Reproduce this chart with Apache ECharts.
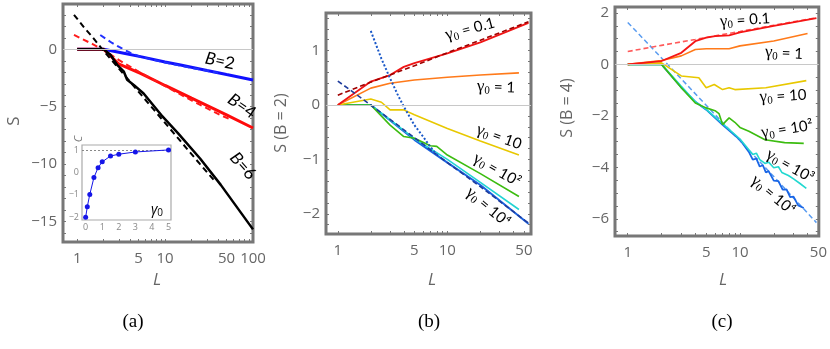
<!DOCTYPE html>
<html><head><meta charset="utf-8">
<script src="https://cdn.jsdelivr.net/npm/echarts@6/dist/echarts.min.js"></script>
<style>html,body{margin:0;padding:0;background:#fff}#c{width:830px;height:349px}</style>
</head><body><div id="c"></div>
<script>
// ---------- Panel (a) ----------
const aBlueL  = [1, 2, 3.4, 5.25, 10, 15, 30, 50, 100];
const aBlueS  = [0, 0, -0.35, -0.64, -1.1, -1.37, -1.85, -2.2, -2.67];
const aBlueDL = [1.83, 2.5, 3, 4, 5, 7, 10, 20, 40];
const aBlueDS = [1.24, 0.55, 0.2, -0.3, -0.6, -0.88, -1.15, -1.62, -2.05];
const aRedL   = [1, 2, 3, 5.25, 10, 20, 50, 100];
const aRedS   = [0, 0, -1.3, -2.1, -3.15, -4.25, -5.7, -6.85];
const aRedDL  = [0.92, 1.5, 2, 3, 5, 10, 20, 42, 55];
const aRedDS  = [1.25, 0.45, -0.05, -0.95, -1.95, -3.2, -4.45, -5.7, -6.1];
const aBlkL   = [1, 1.5, 2, 2.4, 2.85, 3.4, 3.7, 4.4, 5.7, 9, 14, 25, 43, 100];
const aBlkS   = [0, 0, 0, -0.5, -1.35, -1.95, -2.65, -3.1, -3.85, -5.7, -7.3, -9.5, -11.8, -15.67];
const aBlkDL  = [0.92, 1.2, 1.5, 2, 3, 5, 9, 15, 25, 38];
const aBlkDS  = [3.0, 1.9, 1.05, -0.15, -1.7, -3.7, -6.0, -8.0, -10.0, -11.6];
// inset
const inG = [0, 0.1, 0.25, 0.5, 0.75, 1, 1.5, 2, 3, 5];
const inC = [-2.0, -1.53, -0.98, -0.23, 0.21, 0.47, 0.73, 0.81, 0.91, 1.0];
// ---------- Panel (b) ----------
const bRedL = [1, 2, 3, 4, 5, 10, 20, 55];
const bRedS = [0, 0.43, 0.55, 0.7, 0.77, 0.95, 1.15, 1.51];
const bRedDL = [1, 2, 5, 10, 20, 55];
const bRedDS = [0.18, 0.42, 0.72, 0.96, 1.19, 1.53];
const bOrL = [1, 2, 3, 5, 10, 20, 45];
const bOrS = [0, 0.31, 0.4, 0.46, 0.51, 0.55, 0.59];
const bYeL = [1, 2, 2.5, 3, 4, 5, 10, 20, 45];
const bYeS = [0, 0.11, 0.05, -0.09, -0.09, -0.18, -0.43, -0.66, -0.92];
const bGrL = [1, 2, 3, 4, 5, 7, 8, 10, 20, 45];
const bGrS = [0, 0, -0.37, -0.58, -0.61, -0.75, -0.76, -0.92, -1.26, -1.68];
const bCyL = [1, 2, 5, 10, 20, 45];
const bCyS = [0, 0, -0.62, -1.0, -1.42, -1.92];
const bBlL = [1, 2, 5, 10, 20, 55];
const bBlS = [0, 0, -0.64, -1.06, -1.47, -2.18];
const bNvL = [1, 2, 5, 10, 20, 55];
const bNvS = [0.44, 0, -0.6, -1.06, -1.5, -2.17];
const bDtL = [2, 2.5, 3, 3.5, 4, 5, 6, 7, 8.3];
const bDtS = [1.36, 0.85, 0.49, 0.2, -0.03, -0.37, -0.58, -0.77, -0.95];
// ---------- Panel (c) ----------
const cRedL = [1, 2, 3, 4, 5, 6, 8, 10, 20, 48];
const cRedS = [0, 0.13, 0.45, 0.9, 1.04, 1.1, 1.13, 1.24, 1.5, 1.8];
const cRedDL = [1, 2, 4, 10, 20, 48];
const cRedDS = [0.5, 0.74, 0.97, 1.28, 1.52, 1.81];
const cOrL = [1, 2, 3, 4, 5, 8, 10, 20, 40];
const cOrS = [0, 0.15, 0.33, 0.58, 0.61, 0.61, 0.72, 0.91, 1.2];
const cYeL = [1, 2, 3, 4.3, 5, 5.9, 7, 8, 9, 17, 39];
const cYeS = [0, 0.06, -0.45, -0.52, -0.91, -0.78, -0.98, -0.91, -0.98, -0.91, -0.63];
const cGrL = [1, 2, 3, 4, 5, 6, 6.5, 7, 8, 9, 10, 12, 16.7, 25, 37];
const cGrS = [0, 0, -0.91, -1.5, -1.69, -1.8, -1.91, -2.34, -2.08, -2.25, -2.45, -2.6, -2.93, -3.04, -3.07];
const cCyL = [1, 2, 3, 4, 5, 7, 10, 12, 13, 14, 15, 16.7, 18, 20, 22, 23.6, 27, 30, 34, 39];
const cCyS = [0, 0, -0.85, -1.45, -1.75, -2.3, -2.9, -3.32, -3.5, -3.45, -3.7, -3.85, -3.8, -4.02, -3.98, -4.2, -4.32, -4.45, -4.62, -4.82];
const cBlL = [1, 2, 3, 4, 5, 7, 10, 12, 13, 14, 15, 16, 17, 18, 20, 22, 24, 26, 28, 30, 33, 37];
const cBlS = [0, 0, -0.9, -1.45, -1.76, -2.35, -2.93, -3.4, -3.7, -3.66, -3.97, -3.92, -4.2, -4.15, -4.52, -4.54, -4.87, -4.86, -5.16, -5.14, -5.48, -5.58];
const cDsL = [1, 2, 5, 10, 20, 48];
const cDsS = [1.63, 0.25, -1.59, -2.97, -4.36, -6.15];

// tick labels
const aXTicks = [1, 5, 10, 50, 100];
const bcXTicks = [1, 5, 10, 50];
const minorX = [1,2,3,4,5,6,7,8,9,10,20,30,40,50,60,70,80,90,100];
const aYTicks = [0, -5, -10, -15];
const bYTicks = [1, 0, -1, -2];
const cYTicks = [2, 0, -2, -4, -6];
const inXTicks = [0, 1, 2, 3, 4, 5];
const inYTicks = [1, 0, -1, -2];

const zip = (L, S) => L.map((l, i) => [l, S[i]]);
const minus = v => String(v).replace('-', '\u2212');
const GRAY = '#777';
const lab = {color: '#666', fontFamily: 'Open Sans', fontSize: 15};

function xAx(grid, min, max, ticks, pos, show) {
  return {type: 'log', logBase: 10, gridIndex: grid, min, max, position: pos,
    axisLine: {show: false, onZero: false}, splitLine: {show: false},
    axisTick: {show: true, inside: true, length: 3, customValues: minorX.filter(v => v >= min && v <= max), lineStyle: {color: GRAY, width: 1}},
    axisLabel: {show: show, customValues: ticks, margin: 9, showMinLabel: true, showMaxLabel: true, ...lab, formatter: v => String(v)}};
}
function yAx(grid, min, max, ticks, minorT, pos, show) {
  return {type: 'value', gridIndex: grid, min, max, position: pos,
    axisLine: {show: false, onZero: false}, splitLine: {show: false},
    axisTick: {show: true, inside: true, length: 3, customValues: minorT, lineStyle: {color: GRAY, width: 1}},
    axisLabel: {show: show, customValues: ticks, margin: 6, ...lab, formatter: v => minus(v)}};
}
function range(a, b, s) { const r = []; for (let v = a; v <= b + 1e-9; v += s) r.push(Math.round(v * 100) / 100); return r; }

function line(xi, yi, data, color, width, type, z) {
  return {type: 'line', xAxisIndex: xi, yAxisIndex: yi, data, showSymbol: false, symbol: 'none',
    lineStyle: {color, width, type: type || 'solid'}, z: z || 2, silent: true, animation: false};
}
const zero = {silent: true, symbol: ['none', 'none'], label: {show: false},
  lineStyle: {color: '#c8c8c8', width: 1, type: 'solid'}, data: [{yAxis: 0}], animation: false};

const series = [];
// panel a
const s0 = line(0, 0, zip(aBlueL, aBlueS), '#1010ff', 3); s0.markLine = zero; series.push(s0);
series.push(line(0, 0, zip(aBlueDL, aBlueDS), '#2030ff', 2, [6, 4]));
series.push(line(0, 0, zip(aRedL, aRedS), '#ff0a0a', 3));
series.push(line(0, 0, zip(aRedDL, aRedDS), '#ff1a1a', 2, [6, 4]));
series.push(line(0, 0, zip(aBlkDL, aBlkDS), '#000', 2, [6, 4]));
series.push(line(0, 0, zip(aBlkL, aBlkS), '#000', 2.5, 'solid', 3));
// inset
series.push({type: 'line', xAxisIndex: 1, yAxisIndex: 1, data: zip(inG, inC), symbol: 'circle', symbolSize: 5,
  itemStyle: {color: '#1515e8'}, lineStyle: {color: '#1515e8', width: 1}, animation: false, silent: true, z: 5,
  markLine: {silent: true, symbol: ['none', 'none'], label: {show: false}, lineStyle: {color: '#888', width: 1, type: [2, 2]}, data: [{yAxis: 1}], animation: false}});
// panel b
const sb = line(2, 2, zip(bBlL, bBlS), '#1a62e0', 2); sb.markLine = zero; series.push(sb);
series.push(line(2, 2, zip(bCyL, bCyS), '#22d3d3', 1.6));
series.push(line(2, 2, zip(bGrL, bGrS), '#3cbc10', 1.6));
series.push(line(2, 2, zip(bYeL, bYeS), '#e8c800', 1.6));
series.push(line(2, 2, zip(bOrL, bOrS), '#ff7a1a', 1.6));
series.push(line(2, 2, zip(bRedL, bRedS), '#f01515', 1.8));
series.push(line(2, 2, zip(bRedDL, bRedDS), '#a00000', 1.6, [5, 3]));
series.push(line(2, 2, zip(bNvL, bNvS), '#1f3c9c', 1.6, [5, 3]));
series.push(line(2, 2, zip(bDtL, bDtS), '#1a58c8', 2, [2, 2]));
// panel c
const sc = line(3, 3, zip(cDsL, cDsS), '#5a9cf0', 1.5, [5, 3]); sc.markLine = zero; series.push(sc);
series.push(line(3, 3, zip(cBlL, cBlS), '#1a66e6', 1.8));
series.push(line(3, 3, zip(cCyL, cCyS), '#22d8d0', 1.6));
series.push(line(3, 3, zip(cGrL, cGrS), '#3cbc10', 1.6));
series.push(line(3, 3, zip(cYeL, cYeS), '#e8c800', 1.6));
series.push(line(3, 3, zip(cOrL, cOrS), '#ff7a1a', 1.6));
series.push(line(3, 3, zip(cRedDL, cRedDS), '#ff5a5a', 1.6, [5, 3]));
series.push(line(3, 3, zip(cRedL, cRedS), '#f51515', 1.8));

// axes
const xAxis = [
  xAx(0, 0.69, 100, aXTicks, 'bottom', true),
  {type: 'value', gridIndex: 1, min: -0.22, max: 5.15, axisLine: {show: false, onZero: false}, splitLine: {show: false},
   axisTick: {show: true, inside: true, length: 2, customValues: inXTicks, lineStyle: {color: '#999'}},
   axisLabel: {customValues: inXTicks, color: '#888', fontSize: 9, fontFamily: 'Open Sans', margin: 3}},
  xAx(2, 0.78, 58, bcXTicks, 'bottom', true),
  xAx(3, 0.77, 50.4, bcXTicks, 'bottom', true),
  xAx(0, 0.69, 100, aXTicks, 'top', false),
  xAx(2, 0.78, 58, bcXTicks, 'top', false),
  xAx(3, 0.77, 50.4, bcXTicks, 'top', false)
];
const yAxis = [
  yAx(0, -16.77, 3.94, aYTicks, range(-16, 3, 1), 'left', true),
  {type: 'value', gridIndex: 1, min: -2.12, max: 1.22, axisLine: {show: false, onZero: false}, splitLine: {show: false},
   axisTick: {show: true, inside: true, length: 2, customValues: inYTicks, lineStyle: {color: '#999'}},
   axisLabel: {customValues: inYTicks, color: '#888', fontSize: 9, fontFamily: 'Open Sans', margin: 3, formatter: v => minus(v)}},
  yAx(2, -2.37, 1.69, bYTicks, range(-2.2, 1.6, 0.2), 'left', true),
  yAx(3, -6.67, 2.23, cYTicks, range(-6.5, 2, 0.5), 'left', true),
  yAx(0, -16.77, 3.94, aYTicks, range(-16, 3, 1), 'right', false),
  yAx(2, -2.37, 1.69, bYTicks, range(-2.2, 1.6, 0.2), 'right', false),
  yAx(3, -6.67, 2.23, cYTicks, range(-6.5, 2, 0.5), 'right', false)
];

const gridStyle = {show: true, borderColor: GRAY, borderWidth: 3, backgroundColor: '#fff', containLabel: false};
const grid = [
  {left: 63, top: 4, width: 190, height: 238, ...gridStyle},
  {left: 82, top: 145, width: 89, height: 75, show: true, borderColor: '#aaa', borderWidth: 1.2, backgroundColor: '#fff', z: 4},
  {left: 326, top: 13, width: 205, height: 221, ...gridStyle},
  {left: 615, top: 7, width: 206, height: 229, ...gridStyle}
];

// text annotations
const serif = 'Liberation Serif';
const rich = {
  g: {fontFamily: serif, fontSize: 17, color: '#111'},
  s: {fontFamily: serif, fontSize: 11, color: '#111', verticalAlign: 'bottom', padding: [8, 0, 0, 0]},
  t: {fontFamily: 'Lato', fontSize: 15, color: '#111'}
};
function gLab(text, x, y, deg) {
  return {type: 'text', x, y, rotation: deg * Math.PI / 180, z: 50,
    style: {text: '{g|\u03b3}{s|0}{t| = ' + text + '}', rich, align: 'center', verticalAlign: 'middle'}};
}
function bLab(n, x, y, deg) {
  return {type: 'text', x, y, rotation: deg * Math.PI / 180, z: 50,
    style: {text: '{i|B}{t|=' + n + '}', align: 'center', verticalAlign: 'middle',
      rich: {i: {fontFamily: 'Lato', fontStyle: 'italic', fontSize: 17, color: '#000'}, t: {fontFamily: 'Lato', fontSize: 17, color: '#000'}}}};
}
function plain(text, x, y, deg, font) {
  return {type: 'text', x, y, rotation: deg * Math.PI / 180, z: 50,
    style: Object.assign({text, align: 'center', verticalAlign: 'middle', fill: '#666', fontFamily: 'Open Sans', fontSize: 16}, font || {})};
}
const graphic = [
  bLab('2', 220, 61, -12), bLab('4', 242, 106, -35), bLab('6', 243, 166, -48),
  gLab('0.1', 470, 29, 15), gLab('1', 496, 87, -2), gLab('10', 499, 137, -20),
  gLab('10\u00b2', 497, 170, -30), gLab('10\u2074', 488, 207, -40),
  gLab('0.1', 745, 20, 4), gLab('1', 784, 53, -3), gLab('10', 783, 96, 3),
  gLab('10\u00b2', 787, 129, 9), gLab('10\u00b3', 790, 166, -30), gLab('10\u2074', 773, 195, -40),
  plain('L', 157, 280, 0, {fontStyle: 'italic', fontSize: 17}),
  plain('L', 432, 280, 0, {fontStyle: 'italic', fontSize: 17}),
  plain('L', 723, 280, 0, {fontStyle: 'italic', fontSize: 17}),
  plain('S', 14, 121, 90, {fontSize: 17}),
  plain('S (B = 2)', 281, 123, 90),
  plain('S (B = 4)', 567, 108, 90),
  plain('C', 79, 139, 90, {fontStyle: 'italic', fontSize: 11, fill: '#777'}),
  {type: 'text', x: 157, y: 210, z: 50, style: {text: '{g|\u03b3}{s|0}', align: 'center', verticalAlign: 'middle',
    rich: {g: {fontFamily: 'Open Sans', fontStyle: 'italic', fontSize: 14, color: '#777'}, s: {fontFamily: 'Open Sans', fontSize: 10, color: '#777', padding: [6, 0, 0, 0]}}}},
  plain('(a)', 133, 322, 0, {fill: '#000', fontFamily: serif, fontSize: 19}),
  plain('(b)', 429, 322, 0, {fill: '#000', fontFamily: serif, fontSize: 19}),
  plain('(c)', 722, 322, 0, {fill: '#000', fontFamily: serif, fontSize: 19})
];

const chart = echarts.init(document.getElementById('c'), null, {renderer: 'canvas'});
chart.setOption({animation: false, backgroundColor: '#fff', grid, xAxis, yAxis, series, graphic});
</script></body></html>
